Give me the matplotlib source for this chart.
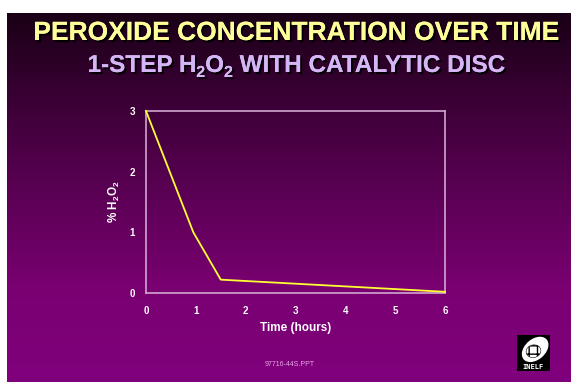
import numpy as np
import matplotlib.pyplot as plt
import matplotlib.patheffects as pe
from matplotlib.patches import Rectangle, Ellipse
from matplotlib.colors import LinearSegmentedColormap

# Peroxide concentration readings
hours = [0, 0.95, 1.5, 6]
percent_h2o2 = [3, 1, 0.22, 0.02]
x_ticks = [0, 1, 2, 3, 4, 5, 6]
y_ticks = [0, 1, 2, 3]

plt.rcParams['mathtext.fontset'] = 'custom'
plt.rcParams['mathtext.bf'] = 'Liberation Sans:bold'
plt.rcParams['mathtext.rm'] = 'Liberation Sans:bold'

W, H = 571, 382
fig = plt.figure(figsize=(W / 100, H / 100), dpi=100)
fig.patch.set_facecolor('white')

# slide background with dark-to-purple gradient
bg = fig.add_axes([7 / W, 0, 1 - 7 / W, (H - 13) / H])
bg.axis('off')
cmap = LinearSegmentedColormap.from_list(
    'slide', [(0, '#1a0016'), (0.35, '#4a0044'), (0.75, '#7a0072'), (1, '#80007c')])
grad = np.linspace(0, 1, 256).reshape(-1, 1)
bg.imshow(grad, aspect='auto', cmap=cmap, extent=[0, 1, 1, 0])
bg.set_xlim(0, 1)
bg.set_ylim(1, 0)

shadow = [pe.withSimplePatchShadow(offset=(1.5, -1.5), shadow_rgbFace='black', alpha=0.9), pe.Normal()]

fig.text(296 / W, 1 - 33 / H, 'PEROXIDE CONCENTRATION OVER TIME', ha='center', va='center',
         fontsize=19, fontweight='bold', color='#ffff99', family='Liberation Sans',
         path_effects=shadow)

# second title line built piece by piece so the subscripts sit low and small
pieces = [('1-STEP H', 0), ('2', 1), ('O', 0), ('2', 1), (' WITH CATALYTIC DISC', 0)]
renderer = fig.canvas.get_renderer()
texts = []
for s, sub in pieces:
    t = fig.text(0, 0, s, fontsize=11.5 if sub else 17.5, fontweight='bold', color='#d4b6f6',
                 family='Liberation Sans', va='baseline', ha='left', path_effects=shadow)
    texts.append((t, sub))
widths = [t.get_window_extent(renderer).width for t, _ in texts]
x = 296 - sum(widths) / 2
base = H - 72
for (t, sub), w in zip(texts, widths):
    t.set_position((x / W, (base - (5 if sub else 0)) / H))
    x += w

ax = fig.add_axes([146 / W, 1 - 293 / H, 299 / W, 182 / H])
ax.patch.set_alpha(0)
ax.plot(hours, percent_h2o2, color='#ffff33', lw=1.3, clip_on=False, zorder=3)
ax.set_xlim(0, 6)
ax.set_ylim(0, 3)
ax.set_xticks(x_ticks)
ax.set_yticks(y_ticks)
for s in ax.spines.values():
    s.set_color('#d0a8d0')
    s.set_linewidth(1.2)
ax.tick_params(length=0, colors='white', labelsize=7, pad=9)
ax.tick_params(axis='y', pad=8)
for lab in ax.get_xticklabels() + ax.get_yticklabels():
    lab.set_fontweight('bold')
    lab.set_family('Liberation Sans')
ax.set_xlabel('Time (hours)', color='white', fontsize=8.5, fontweight='bold', family='Liberation Sans', labelpad=5)
ax.set_ylabel(r'% H$_\mathrm{2}$O$_\mathrm{2}$', color='white', fontsize=8.5, fontweight='bold',
              family='Liberation Sans', labelpad=5)

fig.text(290 / W, 1 - 365 / H, '97716-44S.PPT', ha='center', va='center', fontsize=5,
         color='#e8a8e8', family='Liberation Sans')

# small lab logo in the corner
logo = fig.add_axes([517 / W, 1 - 371 / H, 33 / W, 36 / H])
logo.axis('off')
logo.set_xlim(0, 1)
logo.set_ylim(0, 1)
logo.add_patch(Rectangle((0, 0), 1, 1, color='black'))
logo.add_patch(Ellipse((0.55, 0.6), 0.85, 0.55, angle=35, color='white'))
logo.add_patch(Ellipse((0.5, 0.55), 0.45, 0.35, angle=10, facecolor='none', edgecolor='black', hatch='++', lw=0.4))
logo.text(0.5, 0.1, 'INELF', ha='center', va='center', fontsize=5, color='white', fontweight='bold',
          family='DejaVu Sans Mono')

fig.savefig('out.png', dpi=100)
